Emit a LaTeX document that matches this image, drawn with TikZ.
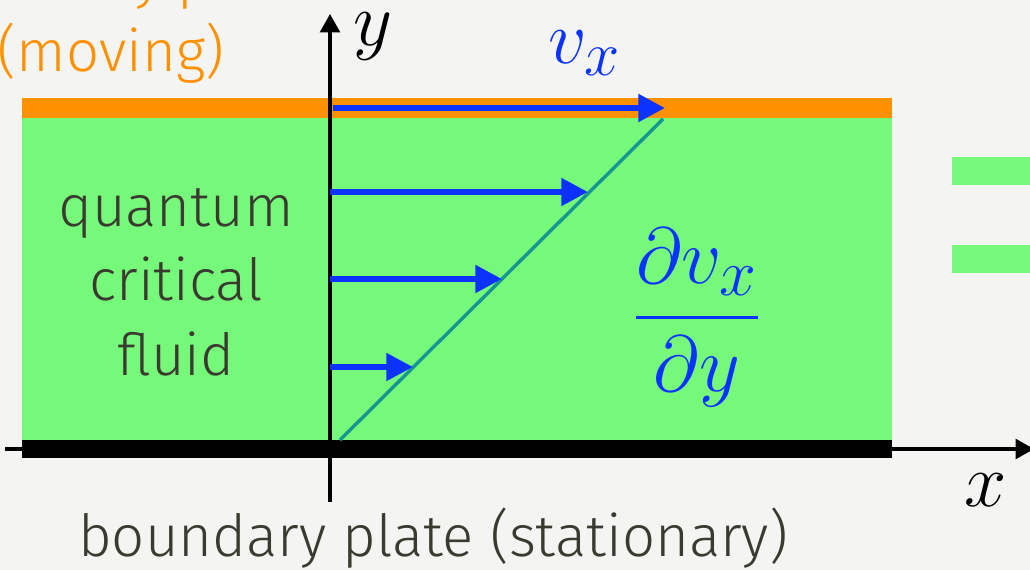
\documentclass[tikz,border=0pt]{standalone}
\usepackage{amsmath}
\usepackage{fontspec}
\setmainfont{Fira Sans}[UprightFont=* Light]
\usetikzlibrary{arrows.meta}
\definecolor{FluidGreen}{RGB}{118,249,122}
\definecolor{PlateOrange}{RGB}{255,145,0}
\definecolor{FlowBlue}{RGB}{12,50,255}
\definecolor{ProfileTeal}{RGB}{22,150,145}
\definecolor{WordGray}{RGB}{58,58,48}
\definecolor{Paper}{RGB}{244,244,243}

\begin{document}
\begin{tikzpicture}[x=0.025cm,y=-0.025cm,
    axisline/.style={line width=2.2pt,-{Triangle[length=13pt,width=14pt]}},
    flowarrow/.style={line width=4.3pt,FlowBlue,-{Triangle[length=19pt,width=19pt]}},
    words/.style={WordGray,inner sep=0pt,align=center,font=\fontsize{41.3}{53}\selectfont},
    mathlbl/.style={inner sep=0pt,font=\Huge,scale=2.17}]
  \useasboundingbox[fill=Paper] (0,0) rectangle (1030,570);
  % plates and fluid
  \fill[FluidGreen] (22,118) rectangle (892,440);
  \fill[PlateOrange] (22,98) rectangle (892,118);
  \fill[black] (22,440) rectangle (892,458);
  \fill[FluidGreen] (952,157) rectangle (1040,185);
  \fill[FluidGreen] (952,245) rectangle (1040,273);
  % axes
  \coordinate (xl) at (5,449);
  \coordinate (xr) at (1034,449);
  \coordinate (yb) at (330,502);
  \coordinate (yt) at (330,14);
  \draw[axisline] (xl) -- (xr);
  \draw[axisline] (yb) -- (yt);
  % velocity profile
  \coordinate (p0) at (340,440);
  \coordinate (p1) at (663,119);
  \draw[ProfileTeal,line width=2.4pt] (p0) -- (p1);
  \foreach \n/\y/\x in {1/367/413,2/279/502,3/192/588} {
    \coordinate (a\n) at (330,\y);
    \coordinate (t\n) at (\x,\y);
    \draw[flowarrow] (a\n) -- (t\n);
  }
  \coordinate (a4) at (333,108);
  \coordinate (t4) at (665,108);
  \draw[flowarrow] (a4) -- (t4);
  % labels
  \node[mathlbl] (ylab) at (373,37) {$y$};
  \node[mathlbl] (xlab) at (986,490) {$x$};
  \node[mathlbl,FlowBlue] (vlab) at (585,53) {$v_x$};
  \node[inner sep=0pt,FlowBlue,font=\Huge,scale=2.27] (grad) at (697,318)
    {$\genfrac{}{}{0.9pt}{0}{\partial v_x}{\partial y}$};
  \node[words] (fluid) at (176,282) {quantum\\critical\\fluid};
  \node[words] (lower) at (433,538) {boundary plate (stationary)};
  \node[words,PlateOrange,anchor=south] (upper) at (111,84) {boundary plate\\(moving)};
\end{tikzpicture}
\end{document}
